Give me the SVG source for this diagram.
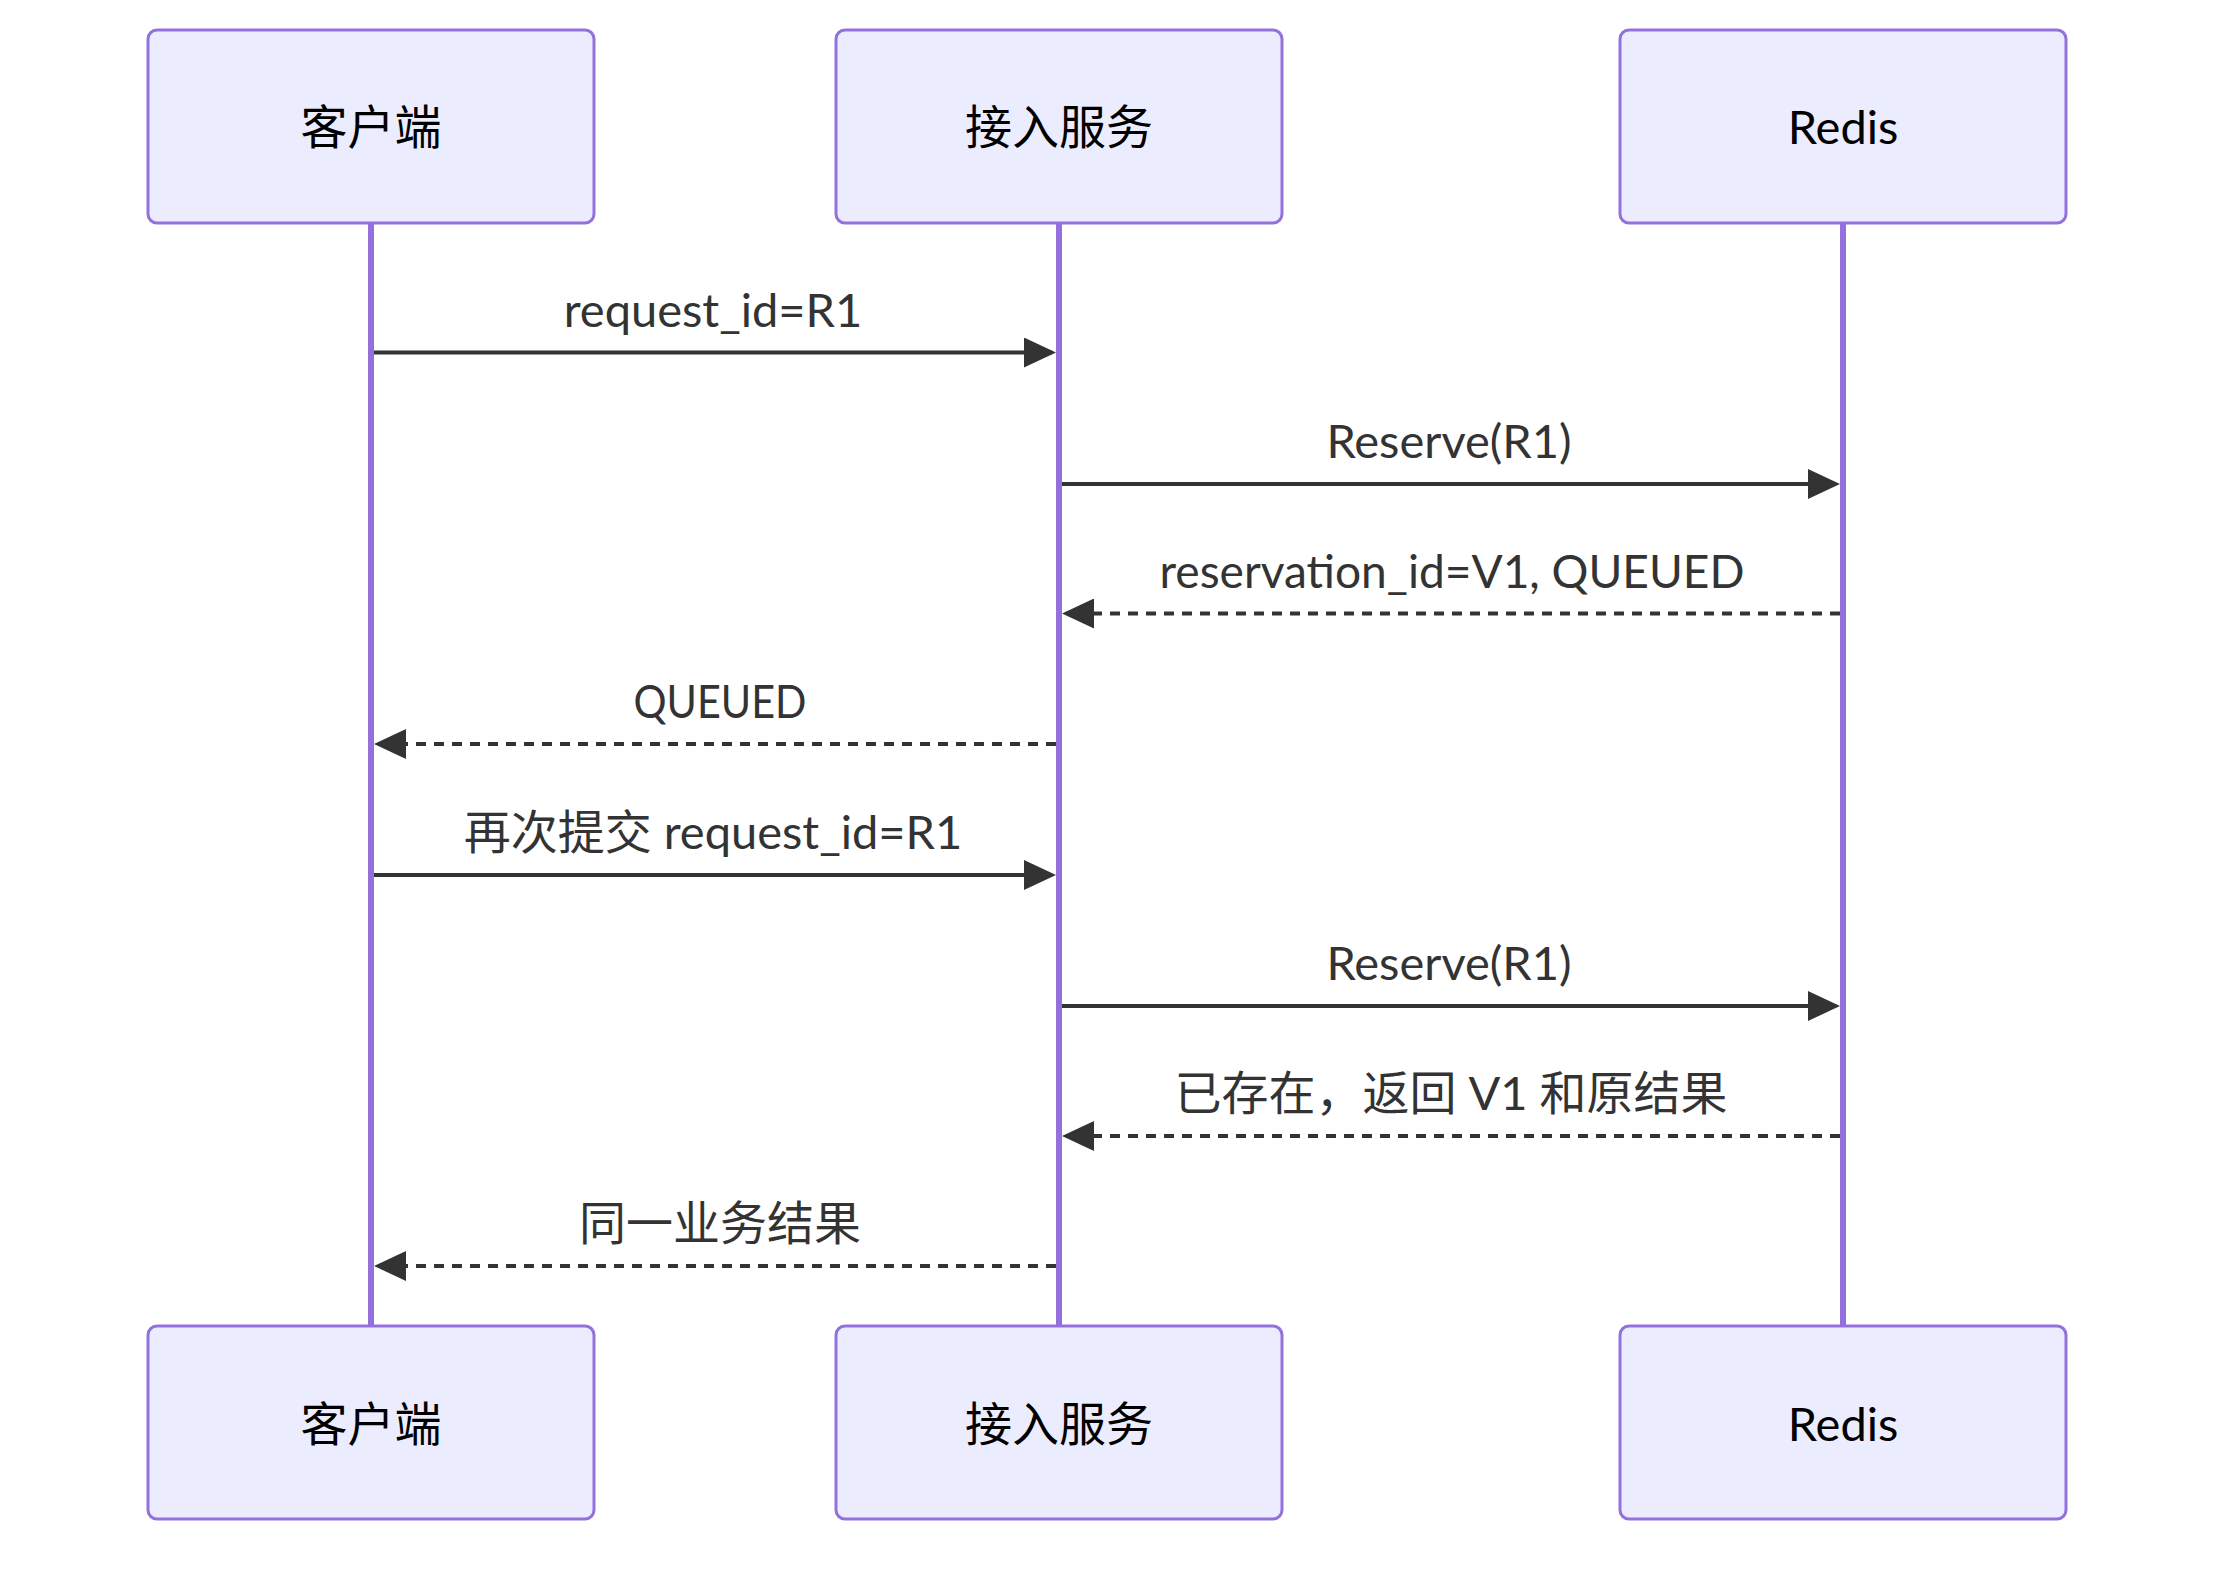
<svg xmlns="http://www.w3.org/2000/svg" width="2238" height="1569" viewBox="0 0 2238 1569">
<defs>
<style>
.actor{fill:#ECECFF;stroke:#9370DB;stroke-width:3}
.atext{font-family:Lato,"Noto Sans CJK SC",sans-serif;font-size:47px;fill:#000;text-anchor:middle}
.life{stroke:#9370DB;stroke-width:6}
.msg{stroke:#333;stroke-width:4;fill:none}
.dash{stroke-dasharray:10 8}
.mtext{font-family:Lato,"Noto Sans CJK SC",sans-serif;font-size:47px;fill:#333;text-anchor:middle}
</style>
<marker id="arrow" markerUnits="userSpaceOnUse" markerWidth="32" markerHeight="30" refX="28" refY="15" orient="auto">
<path d="M0,0 L32,15 L0,30 z" fill="#333"/>
</marker>
</defs>
<rect width="2238" height="1569" fill="#fff"/>
<g id="lifelines">
<line class="life" x1="371" y1="222" x2="371" y2="1326"/>
<line class="life" x1="1059" y1="222" x2="1059" y2="1326"/>
<line class="life" x1="1843" y1="222" x2="1843" y2="1326"/>
</g>
<g id="actor-client-top"><rect class="actor" x="148" y="30" width="446" height="193" rx="9"/><text class="atext" x="371" y="144">客户端</text></g>
<g id="actor-gateway-top"><rect class="actor" x="836" y="30" width="446" height="193" rx="9"/><text class="atext" x="1059" y="144">接入服务</text></g>
<g id="actor-redis-top"><rect class="actor" x="1620" y="30" width="446" height="193" rx="9"/><text class="atext" x="1843" y="144">Redis</text></g>
<g id="actor-client-bottom"><rect class="actor" x="148" y="1326" width="446" height="193" rx="9"/><text class="atext" x="371" y="1441">客户端</text></g>
<g id="actor-gateway-bottom"><rect class="actor" x="836" y="1326" width="446" height="193" rx="9"/><text class="atext" x="1059" y="1441">接入服务</text></g>
<g id="actor-redis-bottom"><rect class="actor" x="1620" y="1326" width="446" height="193" rx="9"/><text class="atext" x="1843" y="1441">Redis</text></g>
<g id="connectors">
<line class="msg" x1="374" y1="352.5" x2="1052" y2="352.5" marker-end="url(#arrow)"/>
<text class="mtext" x="713" y="327">request_id=R1</text>
<line class="msg" x1="1062" y1="484" x2="1836" y2="484" marker-end="url(#arrow)"/>
<text class="mtext" x="1449" y="458">Reserve(R1)</text>
<line class="msg dash" x1="1840" y1="613.5" x2="1066" y2="613.5" marker-end="url(#arrow)"/>
<text class="mtext" x="1452" y="588" textLength="585" lengthAdjust="spacingAndGlyphs">reservation_id=V1, QUEUED</text>
<line class="msg dash" x1="1056" y1="744" x2="378" y2="744" marker-end="url(#arrow)"/>
<text class="mtext" x="720" y="718" textLength="173" lengthAdjust="spacingAndGlyphs">QUEUED</text>
<line class="msg" x1="374" y1="875" x2="1052" y2="875" marker-end="url(#arrow)"/>
<text class="mtext" x="713" y="849">再次提交 request_id=R1</text>
<line class="msg" x1="1062" y1="1006" x2="1836" y2="1006" marker-end="url(#arrow)"/>
<text class="mtext" x="1449" y="980">Reserve(R1)</text>
<line class="msg dash" x1="1840" y1="1136" x2="1066" y2="1136" marker-end="url(#arrow)"/>
<text class="mtext" x="1451" y="1110">已存在，返回 V1 和原结果</text>
<line class="msg dash" x1="1056" y1="1266" x2="378" y2="1266" marker-end="url(#arrow)"/>
<text class="mtext" x="720" y="1240">同一业务结果</text>
</g>
</svg>
